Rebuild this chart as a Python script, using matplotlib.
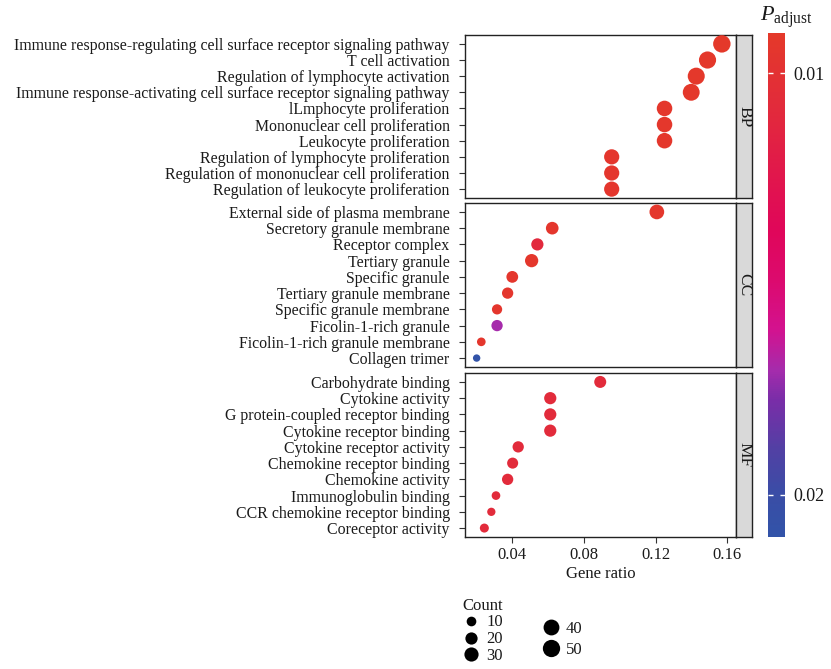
import numpy as np
import matplotlib
matplotlib.use('Agg')
import matplotlib.pyplot as plt
from matplotlib.colors import LinearSegmentedColormap, Normalize
from matplotlib.lines import Line2D

plt.rcParams['font.family'] = 'Liberation Serif'
plt.rcParams['mathtext.fontset'] = 'custom'
plt.rcParams['mathtext.rm'] = 'Liberation Serif'
plt.rcParams['mathtext.it'] = 'Liberation Serif:italic'
TXT = '#1a1a1a'

# --- data ---
bp_terms = ['Immune response-regulating cell surface receptor signaling pathway',
            'T cell activation',
            'Regulation of lymphocyte activation',
            'Immune response-activating cell surface receptor signaling pathway',
            'lLmphocyte proliferation',
            'Mononuclear cell proliferation',
            'Leukocyte proliferation',
            'Regulation of lymphocyte proliferation',
            'Regulation of mononuclear cell proliferation',
            'Regulation of leukocyte proliferation']
bp_ratio = [0.157, 0.149, 0.1427, 0.1399, 0.125, 0.125, 0.125, 0.0955, 0.0955, 0.0955]
bp_count = [51, 49, 48, 47, 38, 38, 38, 36, 36, 36]
bp_padj = [0.0091, 0.0092, 0.0092, 0.0092, 0.0093, 0.0093, 0.0093, 0.0094, 0.0094, 0.0094]

cc_terms = ['External side of plasma membrane',
            'Secretory granule membrane',
            'Receptor complex',
            'Tertiary granule',
            'Specific granule',
            'Tertiary granule membrane',
            'Specific granule membrane',
            'Ficolin-1-rich granule',
            'Ficolin-1-rich granule membrane',
            'Collagen trimer']
cc_ratio = [0.1207, 0.0623, 0.054, 0.0508, 0.040, 0.0374, 0.0315, 0.0315, 0.0227, 0.0201]
cc_count = [33, 22, 20, 25, 18, 16, 12, 16, 7, 4]
cc_padj = [0.0093, 0.0094, 0.0110, 0.0093, 0.0094, 0.0094, 0.0094, 0.0170, 0.0094, 0.0210]

mf_terms = ['Carbohydrate binding',
            'Cytokine activity',
            'G protein-coupled receptor binding',
            'Cytokine receptor binding',
            'Cytokine receptor activity',
            'Chemokine receptor binding',
            'Chemokine activity',
            'Immunoglobulin binding',
            'CCR chemokine receptor binding',
            'Coreceptor activity']
mf_ratio = [0.0891, 0.0612, 0.0612, 0.0612, 0.0433, 0.0402, 0.0374, 0.0309, 0.0283, 0.0244]
mf_count = [19, 20, 20, 20, 16, 15, 16, 7, 6, 8]
mf_padj = [0.0108, 0.0108, 0.0108, 0.0108, 0.0108, 0.0108, 0.0108, 0.0108, 0.0108, 0.0108]

panel_names = ['BP', 'CC', 'MF']
x_ticks = [0.04, 0.08, 0.12, 0.16]
legend_counts = [10, 20, 30, 40, 50]
cbar_ticks = [0.01, 0.02]

# colour scale (red -> magenta -> blue, like the ggplot gradient)
cmap = LinearSegmentedColormap.from_list('padj', [
    (0.0, '#E4392A'), (0.153, '#E22A3C'), (0.393, '#E0065A'), (0.49, '#DC0A6E'),
    (0.59, '#D3128F'), (0.67, '#A42CAC'), (0.728, '#7A2DA8'), (0.827, '#5240A4'),
    (0.914, '#3A4DA6'), (1.0, '#3253A8')])
norm = Normalize(vmin=0.00905, vmax=0.0210)


def diam(c):
    # marker diameter in points (area-type size scale)
    return (3.5 + 1.95 * np.sqrt(np.asarray(c, dtype=float))) * 0.72


fig = plt.figure(figsize=(8.31, 6.69), dpi=100)
W, H = 831.0, 669.0
left, right = 465, 736
panel_px = [(35, 198), (203, 367), (373, 537)]
data = [(bp_terms, bp_ratio, bp_count, bp_padj),
        (cc_terms, cc_ratio, cc_count, cc_padj),
        (mf_terms, mf_ratio, mf_count, mf_padj)]

for k, ((top, bot), (terms, ratio, count, padj)) in enumerate(zip(panel_px, data)):
    ax = fig.add_axes([left / W, 1 - bot / H, (right - left) / W, (bot - top) / H])
    y = np.arange(len(terms))[::-1]
    ax.scatter(ratio, y, s=diam(count) ** 2, c=padj, cmap=cmap, norm=norm,
               linewidths=0, zorder=3)
    ax.set_xlim(0.0136, 0.1649)
    ax.set_ylim(-0.55, 9.55)
    ax.set_yticks(y)
    ax.set_yticklabels(terms, fontsize=11.45, color=TXT)
    ax.tick_params(axis='y', length=4, width=0.8, color='#333333', pad=7)
    for sp in ax.spines.values():
        sp.set_linewidth(1.0)
        sp.set_color('#222222')
    if k == 2:
        ax.set_xticks(x_ticks)
        ax.set_xticklabels([f'{v:.2f}' for v in x_ticks], fontsize=12, color=TXT)
        ax.tick_params(axis='x', length=4, width=0.8, color='#333333', pad=3)
        ax.set_xlabel('Gene ratio', fontsize=12, color=TXT, labelpad=2)
    else:
        ax.set_xticks([])

    # facet strip on the right
    sax = fig.add_axes([right / W, 1 - bot / H, 16 / W, (bot - top) / H])
    sax.set_facecolor('#D9D9D9')
    sax.set_xticks([])
    sax.set_yticks([])
    for sp in sax.spines.values():
        sp.set_linewidth(1.0)
        sp.set_color('#222222')
    sax.text(0.5, 0.5, panel_names[k], rotation=-90, ha='center', va='center',
             fontsize=12.5, color=TXT, transform=sax.transAxes)

# colour bar
cax = fig.add_axes([768 / W, 1 - 537 / H, 17 / W, 504 / H])
sm = plt.cm.ScalarMappable(norm=norm, cmap=cmap)
cb = fig.colorbar(sm, cax=cax)
cb.outline.set_visible(False)
cb.set_ticks(cbar_ticks)
cb.set_ticklabels([f'{v:.2f}' for v in cbar_ticks])
cax.invert_yaxis()
cax.yaxis.set_ticks_position('both')
cax.tick_params(axis='y', direction='in', length=3.5, width=1, color='white',
                labelsize=13, labelcolor=TXT, pad=6, labelleft=False, labelright=True)
fig.text(786 / W, 1 - 17 / H, r'$P_{\mathrm{adjust}}$', fontsize=16, color=TXT,
         ha='center', va='center')

# size legend: two blocks, like the ggplot guide
handles = [Line2D([], [], marker='o', linestyle='none', color='black',
                  markersize=diam(c), markeredgewidth=0) for c in legend_counts]
labels = [str(c) for c in legend_counts]
leg1 = fig.legend(handles[:3], labels[:3], title='Count',
                  loc='upper left', bbox_to_anchor=(451 / W, 1 - 586 / H),
                  frameon=False, fontsize=12, title_fontsize=12,
                  handlelength=1.0, handletextpad=0.4, labelspacing=0.05,
                  borderpad=0.2, alignment='left')
leg2 = fig.legend(handles[3:], labels[3:],
                  loc='upper left', bbox_to_anchor=(531 / W, 1 - 609 / H),
                  frameon=False, fontsize=12,
                  handlelength=1.0, handletextpad=0.4, labelspacing=0.3,
                  borderpad=0.2)
for lg in (leg1, leg2):
    for t in lg.get_texts():
        t.set_color(TXT)
leg1.get_title().set_color(TXT)

fig.savefig('out.png', dpi=100)
